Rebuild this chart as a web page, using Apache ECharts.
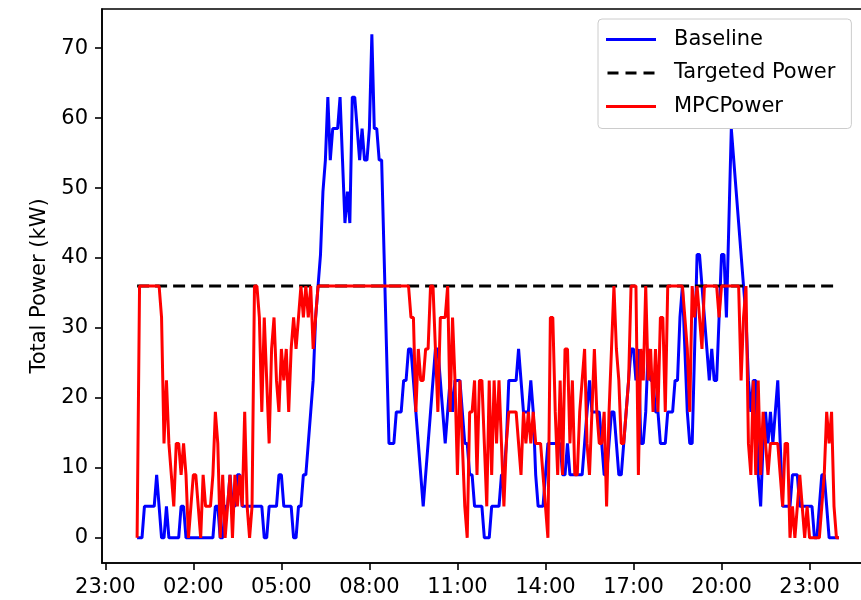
<!DOCTYPE html>
<html>
<head>
<meta charset="utf-8">
<script src="https://cdn.jsdelivr.net/npm/echarts@6/dist/echarts.min.js"></script>
<style>
  html, body { margin: 0; padding: 0; background: #fff; }
  #chart { width: 861px; height: 600px; }
</style>
</head>
<body>
<div id="chart"></div>
<script>
// readings every 5 minutes, one row per hour (00:05 ... 24:00)
const stepMinutes = 5

const baseline = [
  0, 0, 0, 4.5, 4.5, 4.5, 4.5, 4.5, 9, 4.5, 0, 0,
  4.5, 0, 0, 0, 0, 0, 4.5, 4.5, 0, 0, 0, 0,
  0, 0, 0, 0, 0, 0, 0, 0, 4.5, 4.5, 0, 0,
  4.5, 4.5, 9, 4.5, 4.5, 9, 9, 4.5, 4.5, 4.5, 4.5, 4.5,
  4.5, 4.5, 4.5, 4.5, 0, 0, 4.5, 4.5, 4.5, 4.5, 9, 9,
  4.5, 4.5, 4.5, 4.5, 0, 0, 4.5, 4.5, 9, 9, 13.5, 18,
  22.5, 31.5, 36, 40.5, 49.5, 54, 63, 54, 58.5, 58.5, 58.5, 63,
  54, 45, 49.5, 45, 63, 63, 58.5, 54, 58.5, 54, 54, 58.5,
  72, 58.5, 58.5, 54, 54, 40.5, 27, 13.5, 13.5, 13.5, 18, 18,
  18, 22.5, 22.5, 27, 27, 22.5, 18, 13.5, 9, 4.5, 9, 13.5,
  18, 22.5, 27, 27, 22.5, 18, 13.5, 18, 22.5, 18, 22.5, 22.5,
  22.5, 18, 13.5, 13.5, 9, 9, 4.5, 4.5, 4.5, 4.5, 0, 0,
  0, 4.5, 4.5, 4.5, 4.5, 9, 9, 13.5, 22.5, 22.5, 22.5, 22.5,
  27, 22.5, 18, 18, 18, 22.5, 18, 9, 4.5, 4.5, 4.5, 9,
  13.5, 13.5, 13.5, 13.5, 13.5, 13.5, 9, 9, 13.5, 9, 9, 9,
  9, 9, 9, 13.5, 18, 22.5, 18, 18, 18, 18, 13.5, 9,
  9, 13.5, 18, 18, 13.5, 9, 9, 13.5, 18, 22.5, 27, 27,
  22.5, 27, 13.5, 13.5, 18, 27, 22.5, 22.5, 18, 18, 13.5, 13.5,
  13.5, 18, 18, 18, 22.5, 22.5, 31.5, 36, 27, 18, 13.5, 13.5,
  27, 40.5, 40.5, 36, 31.5, 27, 22.5, 27, 22.5, 22.5, 31.5, 40.5,
  40.5, 31.5, 45, 58.5, 54, 49.5, 45, 40.5, 36, 31.5, 22.5, 18,
  22.5, 22.5, 9, 4.5, 13.5, 18, 13.5, 18, 13.5, 18, 22.5, 13.5,
  4.5, 4.5, 4.5, 4.5, 9, 9, 9, 4.5, 4.5, 4.5, 4.5, 4.5,
  4.5, 0, 0, 4.5, 9, 9, 4.5, 0, 0, 0, 0, 0
]

const mpcPower = [
  0, 36, 36, 36, 36, 36, 36, 36, 36, 36, 31.5, 13.5,
  22.5, 13.5, 9, 4.5, 13.5, 13.5, 9, 13.5, 9, 0, 4.5, 9,
  9, 4.5, 0, 9, 4.5, 4.5, 4.5, 9, 18, 13.5, 0, 9,
  0, 4.5, 9, 0, 9, 4.5, 9, 4.5, 18, 4.5, 0, 4.5,
  36, 36, 31.5, 18, 31.5, 22.5, 13.5, 27, 31.5, 22.5, 18, 27,
  22.5, 27, 18, 27, 31.5, 27, 31.5, 36, 31.5, 36, 31.5, 36,
  27, 31.5, 36, 36, 36, 36, 36, 36, 36, 36, 36, 36,
  36, 36, 36, 36, 36, 36, 36, 36, 36, 36, 36, 36,
  36, 36, 36, 36, 36, 36, 36, 36, 36, 36, 36, 36,
  36, 36, 36, 36, 31.5, 31.5, 18, 27, 22.5, 22.5, 27, 27,
  36, 36, 27, 18, 31.5, 31.5, 31.5, 36, 18, 31.5, 22.5, 9,
  22.5, 13.5, 4.5, 0, 18, 18, 22.5, 9, 22.5, 22.5, 13.5, 4.5,
  22.5, 9, 22.5, 13.5, 22.5, 13.5, 4.5, 13.5, 18, 18, 18, 18,
  13.5, 9, 18, 13.5, 18, 13.5, 18, 13.5, 13.5, 13.5, 9, 4.5,
  0, 31.5, 31.5, 18, 9, 22.5, 9, 27, 27, 13.5, 22.5, 9,
  9, 18, 22.5, 27, 13.5, 9, 18, 27, 18, 13.5, 13.5, 18,
  4.5, 18, 27, 36, 27, 22.5, 13.5, 13.5, 18, 22.5, 36, 36,
  36, 9, 27, 22.5, 36, 22.5, 27, 18, 27, 18, 31.5, 31.5,
  18, 36, 36, 36, 36, 36, 36, 36, 31.5, 27, 18, 36,
  31.5, 36, 31.5, 27, 36, 36, 36, 36, 36, 36, 31.5, 36,
  36, 36, 36, 36, 36, 36, 36, 22.5, 31.5, 36, 13.5, 9,
  22.5, 9, 22.5, 9, 18, 13.5, 9, 13.5, 13.5, 13.5, 13.5, 9,
  4.5, 13.5, 13.5, 0, 4.5, 0, 4.5, 9, 4.5, 0, 4.5, 0,
  0, 0, 0, 0, 4.5, 9, 18, 13.5, 18, 4.5, 0, 0
]

const targetPower = [36, 36]

// hours from midnight; -1 is 23:00 the day before
const xTicks = [-1, 2, 5, 8, 11, 14, 17, 20, 23]
const yTicks = [0, 10, 20, 30, 40, 50, 60, 70]

const hours = baseline.map((v, i) => (i + 1) * stepMinutes / 60)
const pairs = arr => arr.map((v, i) => [hours[i], v])
const targetData = [[hours[0], targetPower[0]], [hours[hours.length - 1], targetPower[1]]]

const font = 'DejaVu Sans'
const hourLabel = v => {
  const h = ((Math.round(v) % 24) + 24) % 24
  return (h < 10 ? '0' : '') + h + ':00'
}
// legend samples drawn as flat bars: one solid, one in three dashes
const solidIcon = 'path://M0,0h50v3h-50z'
const dashIcon = 'path://M0,0h11v3h-11z M18,0h11v3h-11z M36,0h11v3h-11z M49,0h1v3h-1z'

const chart = echarts.init(document.getElementById('chart'))
chart.setOption({
  animation: false,
  backgroundColor: '#fff',
  grid: {
    left: 102,
    top: 9,
    right: -13,
    bottom: 37,
    show: true,
    borderColor: '#000',
    borderWidth: 1.6,
    containLabel: false,
    outerBoundsMode: 'none'
  },
  legend: {
    orient: 'vertical',
    left: 598,
    top: 19,
    itemWidth: 50,
    itemHeight: 3,
    itemGap: 11.5,
    padding: [9.5, 16, 11, 8],
    backgroundColor: 'rgba(255,255,255,0.85)',
    borderColor: '#cccccc',
    borderWidth: 1,
    borderRadius: 4,
    textStyle: { fontFamily: font, fontSize: 21, color: '#000', lineHeight: 22, padding: [0, 0, 0, 13] },
    data: [
      { name: 'Baseline', icon: solidIcon },
      { name: 'Targeted Power', icon: 'path://M0,0h11v3h-11z M18,0h11v3h-11z M36,0h11v3h-11z' },
      { name: 'MPCPower', icon: solidIcon }
    ]
  },
  xAxis: {
    type: 'value',
    min: -1.113,
    max: 25.196,
    splitLine: { show: false },
    axisLine: { show: true, onZero: false, lineStyle: { color: '#000', width: 1.6 } },
    axisTick: { show: true, length: 7, lineStyle: { color: '#000', width: 1.6 }, customValues: xTicks },
    axisLabel: {
      customValues: xTicks,
      formatter: hourLabel,
      margin: 14,
      fontFamily: font,
      fontSize: 21,
      color: '#000'
    }
  },
  yAxis: {
    type: 'value',
    min: -3.6,
    max: 75.6,
    name: 'Total Power (kW)',
    nameLocation: 'middle',
    nameRotate: 90,
    nameGap: 52,
    nameTextStyle: { fontFamily: font, fontSize: 21, color: '#000' },
    splitLine: { show: false },
    axisLine: { show: true, onZero: false, lineStyle: { color: '#000', width: 1.6 } },
    axisTick: { show: true, length: 7, lineStyle: { color: '#000', width: 1.6 }, customValues: yTicks },
    axisLabel: {
      customValues: yTicks,
      margin: 14,
      fontFamily: font,
      fontSize: 21,
      color: '#000'
    }
  },
  series: [
    {
      name: 'Baseline',
      type: 'line',
      data: pairs(baseline),
      symbol: 'none',
      lineStyle: { color: '#0000ff', width: 3 },
      itemStyle: { color: '#0000ff' }
    },
    {
      name: 'Targeted Power',
      type: 'line',
      data: targetData,
      symbol: 'none',
      lineStyle: { color: '#000000', width: 3, type: [12, 6] },
      itemStyle: { color: '#000000' }
    },
    {
      name: 'MPCPower',
      type: 'line',
      data: pairs(mpcPower),
      symbol: 'none',
      lineStyle: { color: '#ff0000', width: 3 },
      itemStyle: { color: '#ff0000' }
    }
  ]
})
</script>
</body>
</html>
